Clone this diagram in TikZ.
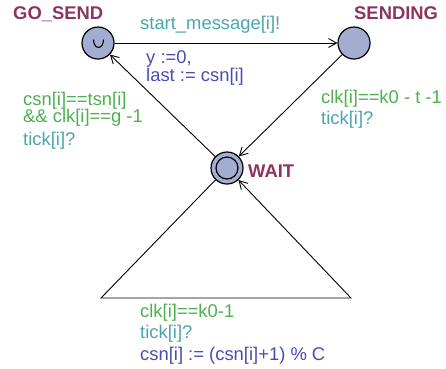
\documentclass[tikz,border=0pt]{standalone}
\usepackage{fontspec}
\setmainfont{Liberation Sans}
\usetikzlibrary{arrows.meta}
\definecolor{locname}{RGB}{140,52,96}
\definecolor{guardc}{RGB}{76,176,80}
\definecolor{syncc}{RGB}{74,165,175}
\definecolor{assignc}{RGB}{75,75,181}
\definecolor{locfill}{RGB}{163,173,208}
\tikzset{
  loc/.style={circle, draw=black, line width=1.2pt, fill=locfill, minimum size=32pt, inner sep=0pt},
  edge/.style={draw=black, line width=0.9pt, -{Straight Barb[length=8pt,width=9pt,line width=0.9pt]}},
  lbl/.style={anchor=base west, inner sep=0pt, font=\fontsize{18.4}{20}\selectfont},
  locname/.style={lbl, text=locname, font=\fontsize{18.4}{20}\selectfont\bfseries},
  guard/.style={lbl, text=guardc},
  sync/.style={lbl, text=syncc},
  assign/.style={lbl, text=assignc}
}
\begin{document}
\begin{tikzpicture}[x=1pt,y=-1pt]
\useasboundingbox (0,0) rectangle (446,368);
% locations
\node[loc] (gosend) at (98,43) {};
\node[loc] (sending) at (354,43) {};
\node[loc] (wait) at (227,168) {};
\draw[line width=1.2pt] (wait.center) circle (11);
% urgent mark
\draw[line width=1.1pt] (93.5,39.5) .. controls (93.5,50) and (103.5,50) .. (103.5,39.5);
% location names
\node[locname] (n1) at (13,19) {GO\_SEND};
\node[locname] (n2) at (354,19) {SENDING};
\node[locname] (n3) at (248,177.5) {WAIT};
% edges
\coordinate (bl) at (101,298);
\coordinate (br) at (351,298);
\draw[edge] (gosend) -- (sending);
\draw[edge] (sending) -- (wait);
\draw[edge] (wait) -- (gosend);
\draw[edge] (wait) -- (bl) -- (br) -- (wait);
% edge labels
\node[sync] (s1) at (140,29) {start\_message[i]!};
\node[assign] (a1) at (146,63.5) {y :=0,};
\node[assign] (a2) at (146,81.5) {last := csn[i]};
\node[guard] (g1) at (321,103.5) {clk[i]==k0 - t -1};
\node[sync] (s2) at (321,124.5) {tick[i]?};
\node[guard] (g2) at (23,105) {csn[i]==tsn[i]};
\node[guard] (g3) at (23,122) {\&\& clk[i]==g -1};
\node[sync] (s3) at (23,145) {tick[i]?};
\node[guard] (g4) at (140,317) {clk[i]==k0-1};
\node[sync] (s4) at (140,338) {tick[i]?};
\node[assign] (a3) at (140,360) {csn[i] := (csn[i]+1) \% C};
\end{tikzpicture}
\end{document}
